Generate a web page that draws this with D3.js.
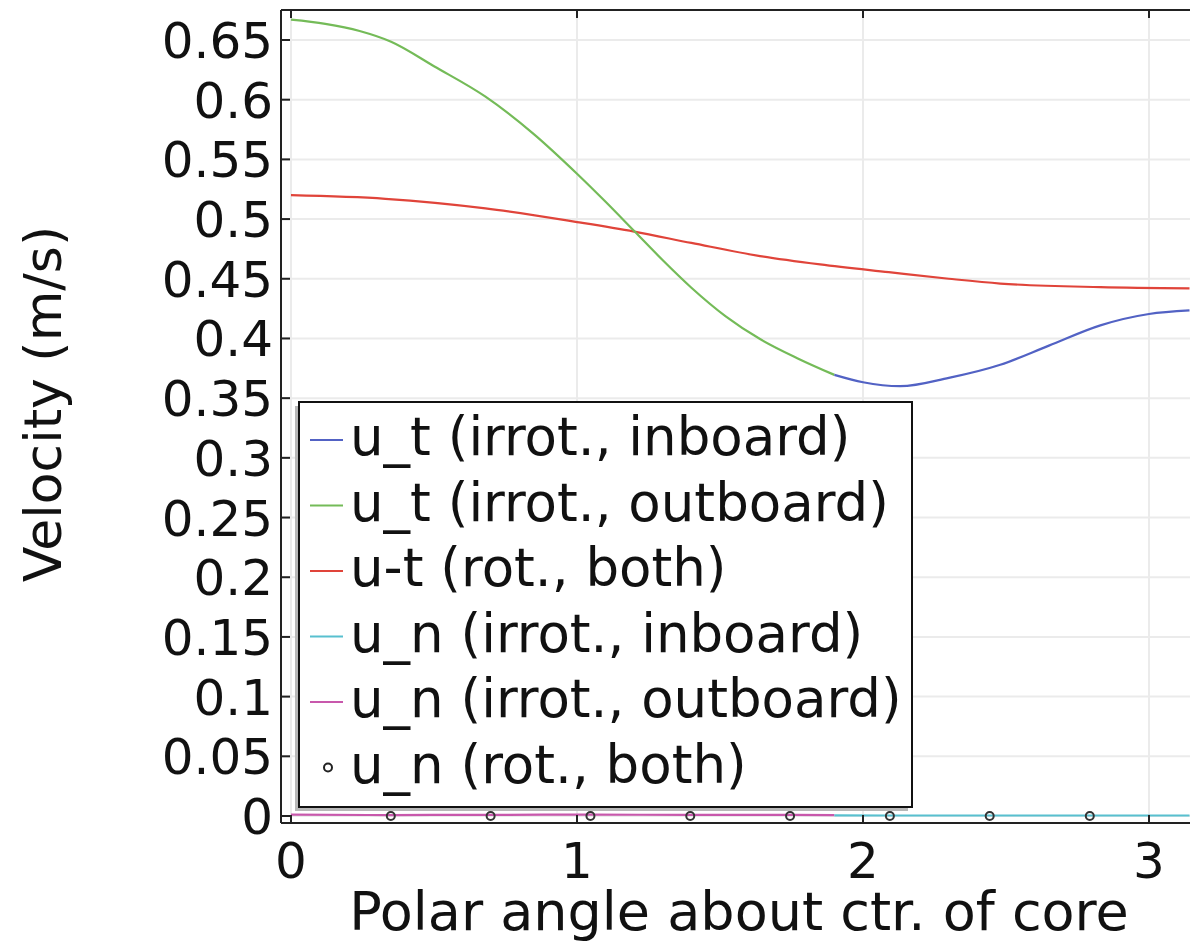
<!DOCTYPE html>
<html>
<head>
<meta charset="utf-8">
<script src="https://cdn.jsdelivr.net/npm/d3@7"></script>
<style>
  html, body { margin: 0; padding: 0; background: #ffffff; }
  svg { display: block; font-family: "DejaVu Sans", sans-serif; }
</style>
</head>
<body>
<svg id="chart" width="1190" height="943"></svg>
<script>
// ---------- data ----------
const xTicks = [0, 1, 2, 3];
const yTicks = [0, 0.05, 0.1, 0.15, 0.2, 0.25, 0.3, 0.35, 0.4, 0.45, 0.5, 0.55, 0.6, 0.65];
const yTickLabels = ["0", "0.05", "0.1", "0.15", "0.2", "0.25", "0.3", "0.35", "0.4", "0.45", "0.5", "0.55", "0.6", "0.65"];

// u_t irrotational, outboard (green)
const utOutX = [0, 0.12, 0.24, 0.35, 0.5, 0.68, 0.85, 1.0, 1.1, 1.2, 1.3, 1.4, 1.52, 1.64, 1.77, 1.9];
const utOutY = [0.667, 0.6635, 0.6575, 0.6485, 0.628, 0.6025, 0.571, 0.538, 0.5145, 0.490, 0.4655, 0.4425, 0.4185, 0.3995, 0.3835, 0.3695];
// u_t irrotational, inboard (blue)
const utInX = [1.9, 2.0, 2.13, 2.3, 2.48, 2.65, 2.83, 3.0, 3.1416];
const utInY = [0.3695, 0.3633, 0.360, 0.367, 0.378, 0.394, 0.411, 0.4205, 0.4235];
// u-t rotational, both (red)
const utRotX = [0, 0.33, 0.68, 1.0, 1.2, 1.4, 1.64, 1.85, 2.09, 2.3, 2.48, 2.83, 3.1416];
const utRotY = [0.520, 0.517, 0.509, 0.4975, 0.4895, 0.480, 0.469, 0.462, 0.4555, 0.450, 0.446, 0.443, 0.442];
// u_n irrotational, outboard (magenta)
const unOutX = [0, 0.35, 0.7, 1.05, 1.4, 1.75, 1.9];
const unOutY = [0.0012, 0.0008, 0.0010, 0.0011, 0.0010, 0.0009, 0.0008];
// u_n irrotational, inboard (cyan)
const unInX = [1.9, 2.3, 2.7, 3.1416];
const unInY = [0.0005, 0.0004, 0.0004, 0.0004];
// u_n rotational, both (circle markers)
const unRotX = [0.349, 0.698, 1.047, 1.396, 1.745, 2.094, 2.443, 2.793];
const unRotY = [0, 0, 0, 0, 0, 0, 0, 0];

const legendLabels = ["u_t (irrot., inboard)", "u_t (irrot., outboard)", "u-t (rot., both)",
                      "u_n (irrot., inboard)", "u_n (irrot., outboard)", "u_n (rot., both)"];
const xTitle = "Polar angle about ctr. of core";
const yTitle = "Velocity (m/s)";

// ---------- layout ----------
const frameL = 281, frameT = 10, frameB = 823, frameR = 1196;
const colors = { blue: "#5262c4", green: "#74bb58", red: "#e0443a", cyan: "#58c0cf", magenta: "#c858ac" };

const x = d3.scaleLinear().domain([0, Math.PI]).range([291, 291 + Math.PI * 286]);
const y = d3.scaleLinear().domain([0, 0.65]).range([816, 40]);

const svg = d3.select("#chart");

svg.append("defs").append("clipPath").attr("id", "clip")
  .append("rect").attr("x", frameL).attr("y", frameT).attr("width", frameR - frameL).attr("height", frameB - frameT);

// gridlines
const grid = svg.append("g");
grid.selectAll("line.gy").data(yTicks).join("line")
  .attr("x1", frameL).attr("x2", frameR)
  .attr("y1", d => y(d)).attr("y2", d => y(d))
  .attr("stroke", "#ebebeb").attr("stroke-width", 2);
grid.selectAll("line.gx").data(xTicks).join("line")
  .attr("x1", d => x(d)).attr("x2", d => x(d))
  .attr("y1", frameT).attr("y2", frameB)
  .attr("stroke", "#ebebeb").attr("stroke-width", 2);

// lines
const plot = svg.append("g").attr("clip-path", "url(#clip)");
function series(xs, ys) { return xs.map((v, i) => [v, ys[i]]); }
const line = d3.line().x(d => x(d[0])).y(d => y(d[1])).curve(d3.curveMonotoneX);

[[unOutX, unOutY, colors.magenta], [unInX, unInY, colors.cyan],
 [utRotX, utRotY, colors.red], [utOutX, utOutY, colors.green], [utInX, utInY, colors.blue]]
 .forEach(([xs, ys, c]) => {
   plot.append("path").datum(series(xs, ys)).attr("d", line)
     .attr("fill", "none").attr("stroke", c).attr("stroke-width", 2.2);
 });

plot.selectAll("circle.m").data(series(unRotX, unRotY)).join("circle")
  .attr("cx", d => x(d[0])).attr("cy", d => y(d[1])).attr("r", 4)
  .attr("fill", "none").attr("stroke", "#333").attr("stroke-width", 2);

// frame
const frame = svg.append("g").attr("stroke", "#222").attr("stroke-width", 2);
frame.append("line").attr("x1", frameL).attr("x2", frameL).attr("y1", frameT).attr("y2", frameB);
frame.append("line").attr("x1", frameL).attr("x2", frameR).attr("y1", frameT).attr("y2", frameT);
frame.append("line").attr("x1", frameL).attr("x2", frameR).attr("y1", frameB).attr("y2", frameB);

// ticks (inward)
frame.selectAll("line.ty").data(yTicks).join("line")
  .attr("x1", frameL).attr("x2", frameL + 9).attr("y1", d => y(d)).attr("y2", d => y(d));
frame.selectAll("line.txb").data(xTicks).join("line")
  .attr("x1", d => x(d)).attr("x2", d => x(d)).attr("y1", frameB).attr("y2", frameB - 8);
frame.selectAll("line.txt").data(xTicks).join("line")
  .attr("x1", d => x(d)).attr("x2", d => x(d)).attr("y1", frameT).attr("y2", frameT + 8);

// tick labels
svg.selectAll("text.yl").data(yTicks).join("text")
  .attr("x", 273).attr("y", d => y(d)).attr("dy", "0.36em")
  .attr("text-anchor", "end").attr("font-size", 50).attr("fill", "#111")
  .text((d, i) => yTickLabels[i]);
svg.selectAll("text.xl").data(xTicks).join("text")
  .attr("x", d => x(d)).attr("y", 878)
  .attr("text-anchor", "middle").attr("font-size", 50).attr("fill", "#111")
  .text(d => d);

// axis titles
svg.append("text").attr("x", 739).attr("y", 930).attr("text-anchor", "middle")
  .attr("font-size", 54).attr("fill", "#111").text(xTitle);
svg.append("text").attr("transform", "translate(61,404) rotate(-90)").attr("text-anchor", "middle")
  .attr("font-size", 52).attr("fill", "#111").text(yTitle);

// legend
const lg = svg.append("g");
lg.append("rect").attr("x", 295).attr("y", 406).attr("width", 613).attr("height", 405).attr("fill", "#b8b8b8");
lg.append("rect").attr("x", 299).attr("y", 402).attr("width", 613).attr("height", 405)
  .attr("fill", "#ffffff").attr("stroke", "#111").attr("stroke-width", 2);
const legColors = [colors.blue, colors.green, colors.red, colors.cyan, colors.magenta, null];
const rowY = d3.scaleLinear().domain([0, 5]).range([440, 767.5]);
legendLabels.forEach((lab, i) => {
  const cy = rowY(i);
  if (legColors[i]) {
    lg.append("line").attr("x1", 310).attr("x2", 343).attr("y1", cy).attr("y2", cy)
      .attr("stroke", legColors[i]).attr("stroke-width", 2);
  } else {
    lg.append("circle").attr("cx", 328).attr("cy", cy).attr("r", 4)
      .attr("fill", "none").attr("stroke", "#222").attr("stroke-width", 2);
  }
  lg.append("text").attr("x", 350).attr("y", cy + 15).attr("font-size", 53).attr("fill", "#111").text(lab);
});
</script>
</body>
</html>
